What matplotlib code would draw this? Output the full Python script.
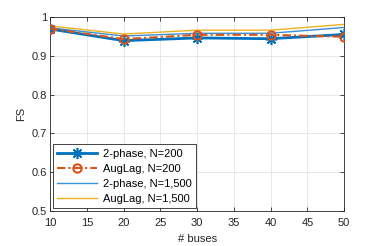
import matplotlib
matplotlib.use("Agg")
import matplotlib.pyplot as plt

plt.rcParams['font.family'] = ['Liberation Sans', 'DejaVu Sans']

buses = [10, 20, 30, 40, 50]
fs_2phase_200 = [0.969, 0.939, 0.946, 0.944, 0.955]
fs_auglag_200 = [0.970, 0.943, 0.954, 0.954, 0.949]
fs_2phase_1500 = [0.972, 0.951, 0.958, 0.958, 0.973]
fs_auglag_1500 = [0.977, 0.956, 0.966, 0.966, 0.981]

fig = plt.figure(figsize=(3.82, 2.46), dpi=100)
ax = fig.add_axes([0.131, 0.142, 0.770, 0.789])

ax.plot(buses, fs_2phase_200, color='#0072BD', lw=2, marker=(8, 2, 0), ms=8,
        mew=1.2, label='2-phase, N=200', zorder=4)
ax.plot(buses, fs_auglag_200, color='#D95319', lw=1.5, ls=(0, (4, 1.5, 1, 1.5)),
        marker='o', ms=6, mfc='none', mew=1.5, label='AugLag, N=200', zorder=5)
ax.plot(buses, fs_2phase_1500, color='#3d8fd0', lw=1.0, label='2-phase, N=1,500', zorder=3)
ax.plot(buses, fs_auglag_1500, color='#EDB120', lw=1.0, label='AugLag, N=1,500', zorder=3)

ax.set_xlim(10, 50)
ax.set_ylim(0.5, 1)
ax.set_xticks(range(10, 51, 5))
ax.set_yticks([0.5, 0.6, 0.7, 0.8, 0.9, 1])
ax.set_yticklabels(['0.5', '0.6', '0.7', '0.8', '0.9', '1'])
ax.grid(True, color='#e3e3e3', lw=0.6)
ax.set_axisbelow(True)
ax.tick_params(direction='in', top=True, right=True, length=3, width=0.6,
               labelsize=8, colors='#262626', pad=2)
ax.tick_params(axis='x', pad=5)
for s in ax.spines.values():
    s.set_linewidth(0.6)
    s.set_color('#262626')

ax.set_xlabel('# buses', fontsize=8, color='#262626', labelpad=4)
ax.set_ylabel('FS', fontsize=8, color='#262626', labelpad=4)

leg = ax.legend(loc='lower left', fontsize=8, fancybox=False, framealpha=1,
                edgecolor='#262626', handlelength=3.6, borderaxespad=0.25,
                labelspacing=0.45, handletextpad=0.5, borderpad=0.4)
leg.get_frame().set_linewidth(0.6)

fig.savefig('out.png', dpi=100)
